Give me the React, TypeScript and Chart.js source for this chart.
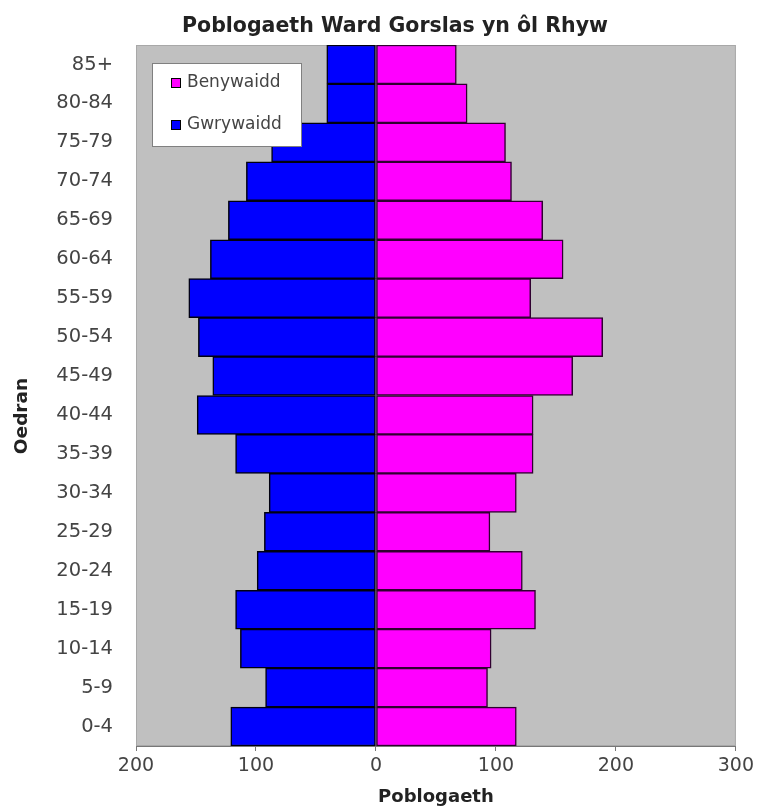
import React, { useEffect, useRef } from "react";
import { Chart, registerables } from "chart.js";

Chart.register(...registerables);

const ageGroups = [
  "85+", "80-84", "75-79", "70-74", "65-69", "60-64", "55-59", "50-54", "45-49",
  "40-44", "35-39", "30-34", "25-29", "20-24", "15-19", "10-14", "5-9", "0-4",
];
const femaleValues = [67, 76, 108, 113, 139, 156, 129, 189, 164, 131, 131, 117, 95, 122, 133, 96, 93, 117];
const maleValues = [41, 41, 87, 108, 123, 138, 156, 148, 136, 149, 117, 89, 93, 99, 117, 113, 92, 121];
const xTicks = [-200, -100, 0, 100, 200, 300];
const seriesNames = ["Benywaidd", "Gwrywaidd"];
const seriesColors = ["#ff00ff", "#0000ff"];
const chartTitle = "Poblogaeth Ward Gorslas yn ôl Rhyw";
const xTitle = "Poblogaeth";
const yTitle = "Oedran";

const FONT = "'DejaVu Sans', Verdana, sans-serif";

const plotBg = {
  id: "plotBg",
  beforeDatasetsDraw(chart: any) {
    const { ctx, chartArea } = chart;
    ctx.save();
    ctx.fillStyle = "#c0c0c0";
    ctx.fillRect(chartArea.left, chartArea.top, chartArea.right - chartArea.left, chartArea.bottom - chartArea.top);
    ctx.strokeStyle = "#a8a8a8";
    ctx.lineWidth = 1;
    ctx.strokeRect(chartArea.left + 0.5, chartArea.top + 0.5, chartArea.right - chartArea.left - 1, chartArea.bottom - chartArea.top - 1);
    ctx.restore();
  },
};

const titles = {
  id: "titles",
  afterDraw(chart: any) {
    const { ctx } = chart;
    ctx.save();
    ctx.fillStyle = "#222";
    ctx.textAlign = "center";
    ctx.textBaseline = "alphabetic";
    ctx.font = `bold 20.5px ${FONT}`;
    ctx.fillText(chartTitle, 395, 32);
    ctx.translate(27, 416);
    ctx.rotate(-Math.PI / 2);
    ctx.font = `bold 18.5px ${FONT}`;
    ctx.fillText(yTitle, 0, 0);
    ctx.restore();
  },
};

const insideLegend = {
  id: "insideLegend",
  afterDatasetsDraw(chart: any) {
    const { ctx, chartArea } = chart;
    const x = chartArea.left + 16;
    const y = chartArea.top + 18;
    const w = 150;
    const h = 84;
    ctx.save();
    ctx.fillStyle = "#ffffff";
    ctx.fillRect(x, y, w, h);
    ctx.strokeStyle = "#808080";
    ctx.lineWidth = 1;
    ctx.strokeRect(x + 0.5, y + 0.5, w - 1, h - 1);
    ctx.font = `17px ${FONT}`;
    ctx.textBaseline = "middle";
    ctx.textAlign = "left";
    chart.data.datasets.forEach((ds: any, i: number) => {
      const cy = y + 20 + i * 42;
      ctx.fillStyle = ds.backgroundColor;
      ctx.fillRect(x + 19, cy - 5, 10, 10);
      ctx.strokeStyle = "#000";
      ctx.strokeRect(x + 19.5, cy - 4.5, 9, 9);
      ctx.fillStyle = "#444";
      ctx.fillText(ds.label, x + 35, cy);
    });
    ctx.restore();
  },
};

export default function App() {
  const canvasRef = useRef<HTMLCanvasElement | null>(null);

  useEffect(() => {
    document.body.style.margin = "0";
    const canvas = canvasRef.current;
    if (!canvas) return;
    const chart = new Chart(canvas, {
      type: "bar",
      data: {
        labels: ageGroups,
        datasets: [
          {
            label: seriesNames[0],
            data: femaleValues,
            backgroundColor: seriesColors[0],
            borderColor: "#300030",
            borderWidth: 1.5,
            borderSkipped: false,
            barPercentage: 1,
            categoryPercentage: 1,
          },
          {
            label: seriesNames[1],
            data: maleValues.map((v) => -v),
            backgroundColor: seriesColors[1],
            borderColor: "#000010",
            borderWidth: 1.5,
            borderSkipped: false,
            barPercentage: 1,
            categoryPercentage: 1,
          },
        ],
      },
      options: {
        indexAxis: "y",
        animation: false,
        responsive: false,
        maintainAspectRatio: false,
        layout: { padding: { left: 0, right: 21, top: 45, bottom: 0 } },
        plugins: {
          legend: { display: false },
          tooltip: { enabled: false },
          title: { display: false },
        },
        scales: {
          x: {
            stacked: true,
            min: xTicks[0],
            max: xTicks[xTicks.length - 1],
            afterBuildTicks(scale: any) {
              scale.ticks = xTicks.map((v) => ({ value: v }));
            },
            afterFit(scale: any) {
              scale.height = 61;
            },
            ticks: {
              color: "#444",
              font: { family: FONT, size: 19 },
              padding: 4,
              callback: (v: any) => String(Math.abs(Number(v))),
            },
            grid: {
              display: true,
              drawOnChartArea: false,
              drawTicks: true,
              tickLength: 5,
              color: "#777",
            },
            border: { display: true, color: "#777", width: 1 },
            title: {
              display: true,
              text: xTitle,
              color: "#222",
              font: { family: FONT, size: 18, weight: "bold", lineHeight: 1 },
              padding: { top: 0, bottom: 1 },
            },
          },
          y: {
            stacked: true,
            afterFit(scale: any) {
              scale.width = 136;
            },
            ticks: {
              color: "#444",
              font: { family: FONT, size: 19.5 },
              padding: 23,
            },
            grid: { display: false, drawTicks: false },
            border: { display: false },
          },
        },
      },
      plugins: [plotBg, insideLegend, titles],
    });
    return () => chart.destroy();
  }, []);

  return (
    <div style={{ width: 758, height: 807 }}>
      <canvas ref={canvasRef} width={758} height={807} style={{ display: "block" }} />
    </div>
  );
}
